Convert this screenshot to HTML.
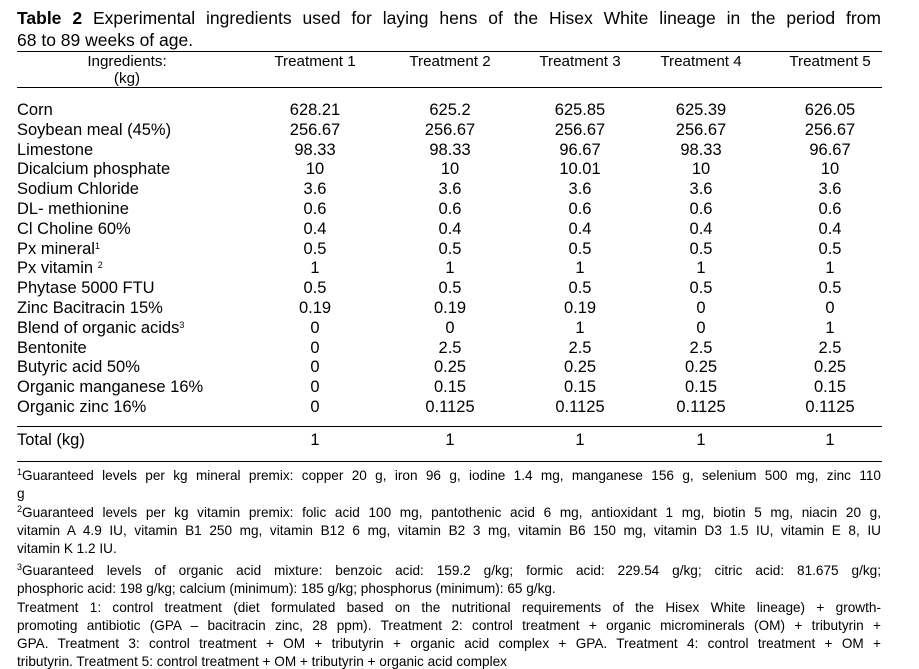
<!DOCTYPE html>
<html><head><meta charset="utf-8"><style>
body{margin:0;width:919px;height:667px;background:#fff;font-family:"Liberation Sans",Arial,sans-serif;color:#000;position:relative;overflow:hidden}
.a{position:absolute;white-space:nowrap}
.t{font-size:17.5px;left:17px}
.hl{position:absolute;left:17px;width:865px;height:1.3px;background:#000}
.c{position:absolute;font-size:16.5px;transform:translateX(-50%);white-space:nowrap}
.h{font-size:15.2px}
.l{position:absolute;left:17px;font-size:16.5px;white-space:nowrap}
.f{position:absolute;left:17px;width:864px;font-size:13.6px;white-space:nowrap}
.j{text-align:justify;text-align-last:justify;white-space:normal;height:18px;overflow:hidden}
sup{font-size:9px;vertical-align:5px;line-height:0}
</style></head><body>
<div class="a t" style="top:8px;width:864px;text-align:justify;text-align-last:justify"><b>Table 2</b> Experimental ingredients used for laying hens of the Hisex White lineage in the period from</div>
<div class="a t" style="top:30px">68 to 89 weeks of age.</div>
<div class="hl" style="top:51px"></div>
<div class="hl" style="top:87px"></div>
<div class="hl" style="top:426px"></div>
<div class="hl" style="top:461px"></div>
<div class="c h" style="left:127px;top:53px;text-align:center;line-height:17px">Ingredients:<br>(kg)</div>
<div id="tbl"></div>
<div class="f j" style="top:468px"><sup>1</sup>Guaranteed levels per kg mineral premix: copper 20 g, iron 96 g, iodine 1.4 mg, manganese 156 g, selenium 500 mg, zinc 110</div>
<div class="f" style="top:486px">g</div>
<div class="f j" style="top:505px"><sup>2</sup>Guaranteed levels per kg vitamin premix: folic acid 100 mg, pantothenic acid 6 mg, antioxidant 1 mg, biotin 5 mg, niacin 20 g,</div>
<div class="f j" style="top:523px">vitamin A 4.9 IU, vitamin B1 250 mg, vitamin B12 6 mg, vitamin B2 3 mg, vitamin B6 150 mg, vitamin D3 1.5 IU, vitamin E 8, IU</div>
<div class="f" style="top:541px">vitamin K 1.2 IU.</div>
<div class="f j" style="top:563px"><sup>3</sup>Guaranteed levels of organic acid mixture: benzoic acid: 159.2 g/kg; formic acid: 229.54 g/kg; citric acid: 81.675 g/kg;</div>
<div class="f" style="top:581px">phosphoric acid: 198 g/kg; calcium (minimum): 185 g/kg; phosphorus (minimum): 65 g/kg.</div>
<div class="f j" style="top:600px">Treatment 1: control treatment (diet formulated based on the nutritional requirements of the Hisex White lineage) + growth-</div>
<div class="f j" style="top:618px">promoting antibiotic (GPA – bacitracin zinc, 28 ppm). Treatment 2: control treatment + organic microminerals (OM) + tributyrin +</div>
<div class="f j" style="top:636px">GPA. Treatment 3: control treatment + OM + tributyrin + organic acid complex + GPA. Treatment 4: control treatment + OM +</div>
<div class="f" style="top:654px">tributyrin. Treatment 5: control treatment + OM + tributyrin + organic acid complex</div>
<script>
const headers=["Treatment 1","Treatment 2","Treatment 3","Treatment 4","Treatment 5"];
const ingredients=["Corn","Soybean meal (45%)","Limestone","Dicalcium phosphate","Sodium Chloride","DL- methionine","Cl Choline 60%","Px mineral<sup>1</sup>","Px vitamin <sup>2</sup>","Phytase 5000 FTU","Zinc Bacitracin 15%","Blend of organic acids<sup>3</sup>","Bentonite","Butyric acid 50%","Organic manganese 16%","Organic zinc 16%"];
const values=[
["628.21","625.2","625.85","625.39","626.05"],
["256.67","256.67","256.67","256.67","256.67"],
["98.33","98.33","96.67","98.33","96.67"],
["10","10","10.01","10","10"],
["3.6","3.6","3.6","3.6","3.6"],
["0.6","0.6","0.6","0.6","0.6"],
["0.4","0.4","0.4","0.4","0.4"],
["0.5","0.5","0.5","0.5","0.5"],
["1","1","1","1","1"],
["0.5","0.5","0.5","0.5","0.5"],
["0.19","0.19","0.19","0","0"],
["0","0","1","0","1"],
["0","2.5","2.5","2.5","2.5"],
["0","0.25","0.25","0.25","0.25"],
["0","0.15","0.15","0.15","0.15"],
["0","0.1125","0.1125","0.1125","0.1125"]];
const totals=["1","1","1","1","1"];
const colX=[315,450,580,701,830];
const tbl=document.getElementById('tbl');
function add(cls,html,x,y,name){const d=document.createElement('div');d.className=cls;d.innerHTML=html;d.style.top=y+'px';if(x!==null)d.style.left=x+'px';


tbl.appendChild(d);}
headers.forEach((h,i)=>add('c h',h,colX[i],53,'header-treatment-'+(i+1)));
ingredients.forEach((ing,r)=>{const y=101+r*19.8;add('l',ing,null,y,'ingredient-label');values[r].forEach((v,i)=>add('c',v,colX[i],y,'cell-value'));});
add('l','Total (kg)',null,431,'total-label');
totals.forEach((v,i)=>add('c',v,colX[i],431,'total-value'));
</script>
</body></html>
